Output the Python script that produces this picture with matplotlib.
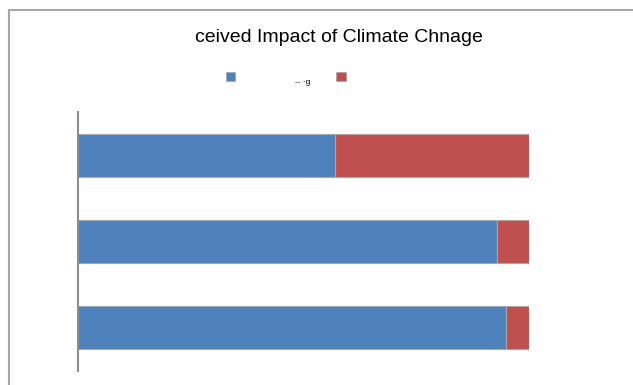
import matplotlib
matplotlib.use("Agg")
import matplotlib.pyplot as plt
from matplotlib.patches import Rectangle

# share of answers per row, bottom row first (100% stacked)
rows = [0, 1, 2]
yes_share = [95, 93, 57]
no_share = [5, 7, 43]

blue = '#4F81BD'
red = '#C0504D'

W, H = 633, 385
fig = plt.figure(figsize=(W / 100, H / 100), dpi=100)

# chart area border (runs off the right and bottom edges)
fig.patches.append(Rectangle((9 / W, -0.1), 1.2, 1.1 - 10 / H,
                             transform=fig.transFigure, fill=False,
                             edgecolor='#A6A6A6', linewidth=1.5))

ax = fig.add_axes([78 / W, 14 / H, (529 - 78) / W, (371 - 112) / H])
ax.barh(rows, yes_share, height=0.5, color=blue, edgecolor='#A8A8A8', linewidth=0.8)
ax.barh(rows, no_share, left=yes_share, height=0.5, color=red,
        edgecolor='#A8A8A8', linewidth=0.8)

ax.set_xlim(0, 100)
ax.set_ylim(-0.5, 2.5)
for side in ['top', 'right', 'bottom']:
    ax.spines[side].set_visible(False)
ax.spines['left'].set_color('#8C8C8C')
ax.spines['left'].set_linewidth(1.5)
ax.set_xticks([])
ax.set_yticks([])

fig.text(339 / W, 1 - 37 / H, 'ceived Impact of Climate Chnage',
         ha='center', va='center', fontsize=14,
         family=['Liberation Sans', 'DejaVu Sans'])

# legend keys
fig.patches.append(Rectangle((226 / W, 1 - 81 / H), 9 / W, 9 / H,
                             transform=fig.transFigure, facecolor=blue,
                             edgecolor='#A8A8A8', linewidth=0.5))
fig.patches.append(Rectangle((336 / W, 1 - 81 / H), 10 / W, 9 / H,
                             transform=fig.transFigure, facecolor=red,
                             edgecolor='#A8A8A8', linewidth=0.5))
fig.text(303 / W, 1 - 83 / H, '-- ·g', ha='center', va='center', fontsize=6,
         family=['Liberation Sans', 'DejaVu Sans'])

fig.savefig('out.png', dpi=100)
